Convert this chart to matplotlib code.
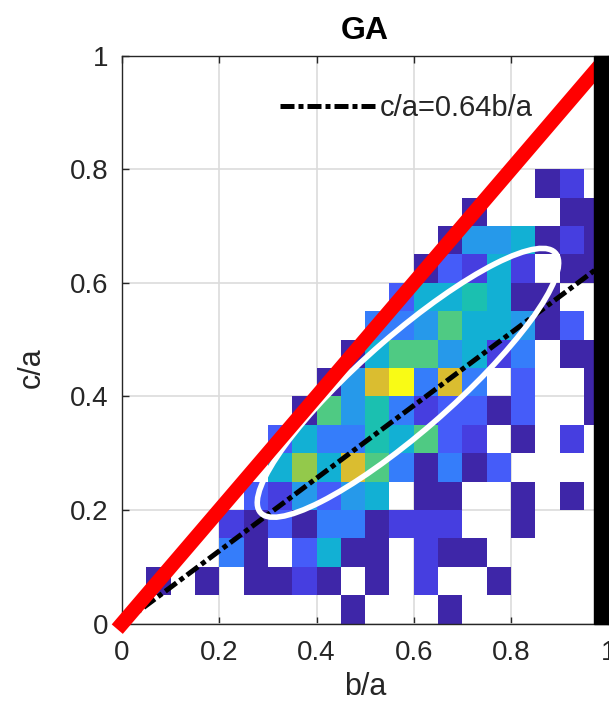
import numpy as np
import matplotlib
matplotlib.use("Agg")
import matplotlib.pyplot as plt
from matplotlib.colors import LinearSegmentedColormap
from matplotlib.patches import Ellipse, Rectangle

plt.rcParams['font.family'] = ['Liberation Sans', 'DejaVu Sans']

# 2D histogram counts, 0.05 bins; row = c/a bin (from 0), col = b/a bin (from 0)
counts = {
    0: {9: 1, 13: 1},
    1: {1: 1, 3: 1, 5: 1, 6: 1, 7: 2, 8: 1, 10: 1, 12: 2, 15: 1},
    2: {4: 4, 5: 1, 7: 3, 8: 6, 9: 1, 10: 1, 12: 2, 13: 1, 14: 1},
    3: {4: 2, 5: 1, 6: 3, 7: 1, 8: 4, 9: 4, 10: 1, 11: 2, 12: 2, 13: 2, 16: 1},
    4: {5: 3, 6: 2, 7: 5, 8: 3, 9: 5, 10: 6, 12: 1, 13: 1, 16: 1, 18: 1},
    5: {6: 6, 7: 9, 8: 6, 9: 10, 10: 8, 11: 4, 12: 1, 13: 4, 14: 1, 15: 3},
    6: {6: 3, 7: 6, 8: 4, 9: 4, 10: 7, 11: 6, 12: 8, 13: 3, 14: 2, 16: 1, 18: 2},
    7: {7: 1, 8: 8, 9: 5, 10: 7, 11: 4, 12: 2, 13: 3, 14: 3, 15: 1, 16: 3, 19: 1},
    8: {8: 1, 9: 5, 10: 10, 11: 13, 12: 4, 13: 10, 14: 4, 16: 3, 19: 1},
    9: {9: 1, 10: 6, 11: 8, 12: 8, 13: 5, 14: 6, 15: 2, 16: 4, 18: 1, 19: 1},
    10: {10: 4, 11: 4, 12: 5, 13: 8, 14: 6, 15: 6, 16: 5, 17: 1, 18: 3},
    11: {11: 3, 12: 6, 13: 6, 14: 7, 15: 6, 16: 1, 17: 1},
    12: {12: 1, 13: 3, 14: 2, 15: 6, 16: 2, 18: 1, 19: 1},
    13: {13: 1, 14: 5, 15: 5, 16: 6, 17: 1, 18: 2, 19: 1},
    14: {14: 1, 18: 1, 19: 1},
    15: {17: 1, 18: 2},
}
nbins = 20
bin_edges = np.linspace(0, 1, nbins + 1)

slope = 0.64
legend_label = 'c/a=0.64b/a'

# fitted ellipse (data units)
ell_center = (0.588, 0.424)
ell_width = 0.76
ell_height = 0.175
ell_angle = 36.5

H = np.zeros((nbins, nbins))
for r, cols in counts.items():
    for c, v in cols.items():
        H[r, c] = v
H = np.ma.masked_equal(H, 0)

parula = LinearSegmentedColormap.from_list('parula', [
    (0.2422, 0.1504, 0.6603), (0.2751, 0.2342, 0.8710), (0.2795, 0.3447, 0.9717),
    (0.2206, 0.4603, 0.9973), (0.1687, 0.5703, 0.9359), (0.1113, 0.6635, 0.8763),
    (0.0067, 0.7312, 0.7660), (0.1938, 0.7758, 0.6251), (0.3909, 0.8029, 0.4354),
    (0.6720, 0.7793, 0.2227), (0.9035, 0.7330, 0.1774), (0.9952, 0.7893, 0.2028),
    (0.9597, 0.9135, 0.1423), (0.9769, 0.9839, 0.0805)])

fig = plt.figure(figsize=(6.09, 7.19), dpi=100)
ax = fig.add_axes([122 / 609, (719 - 623.6) / 719, 486.3 / 609, 567.9 / 719])

ax.set_axisbelow(True)
ax.grid(True, color='#dcdcdc', lw=1.2)
ax.pcolormesh(bin_edges, bin_edges, H, cmap=parula, vmin=1, vmax=13, zorder=1)

xs = np.array([0, 1.0])
ax.plot(xs, slope * xs, color='k', lw=3.6, ls=(0, (2.8, 0.8, 1.0, 0.8)),
        label=legend_label, zorder=3)
ax.add_patch(Ellipse(ell_center, ell_width, ell_height, angle=ell_angle,
                     fill=False, ec='white', lw=4, zorder=4))
red, = ax.plot(xs, xs, color='red', lw=10.5, solid_capstyle='projecting', zorder=5)
# let the line cap spill past the origin but stay clipped at the top
red.set_clip_path(Rectangle((-0.1, -0.1), 1.1, 1.1, transform=ax.transAxes))
ax.axvspan(0.9706, 1.0, color='black', zorder=6, clip_on=False)

ax.set_xlim(0, 1)
ax.set_ylim(0, 1)
ticks = [0, 0.2, 0.4, 0.6, 0.8, 1]
ticklabels = ['0', '0.2', '0.4', '0.6', '0.8', '1']
ax.set_xticks(ticks)
ax.set_xticklabels(ticklabels)
ax.set_yticks(ticks)
ax.set_yticklabels(ticklabels)
ax.tick_params(direction='in', length=5, width=1, colors='#262626',
               labelsize=20, top=True, right=False)
ax.tick_params(axis='x', pad=12)
ax.tick_params(axis='y', pad=10)
for s in ax.spines.values():
    s.set_color('#262626')
    s.set_linewidth(1)

ax.set_xlabel('b/a', fontsize=22, color='#262626', labelpad=4)
ax.set_ylabel('c/a', fontsize=22, color='#262626')
ax.yaxis.set_label_coords(-0.155, 0.45)
ax.set_title('GA', fontsize=23, fontweight='bold', pad=12)

ax.legend(loc='center left', bbox_to_anchor=(0.325, 0.908), frameon=False,
          fontsize=21, handlelength=3.3, handletextpad=0.12, borderpad=0,
          borderaxespad=0, labelcolor='#262626')

fig.savefig('out.png', dpi=100)
